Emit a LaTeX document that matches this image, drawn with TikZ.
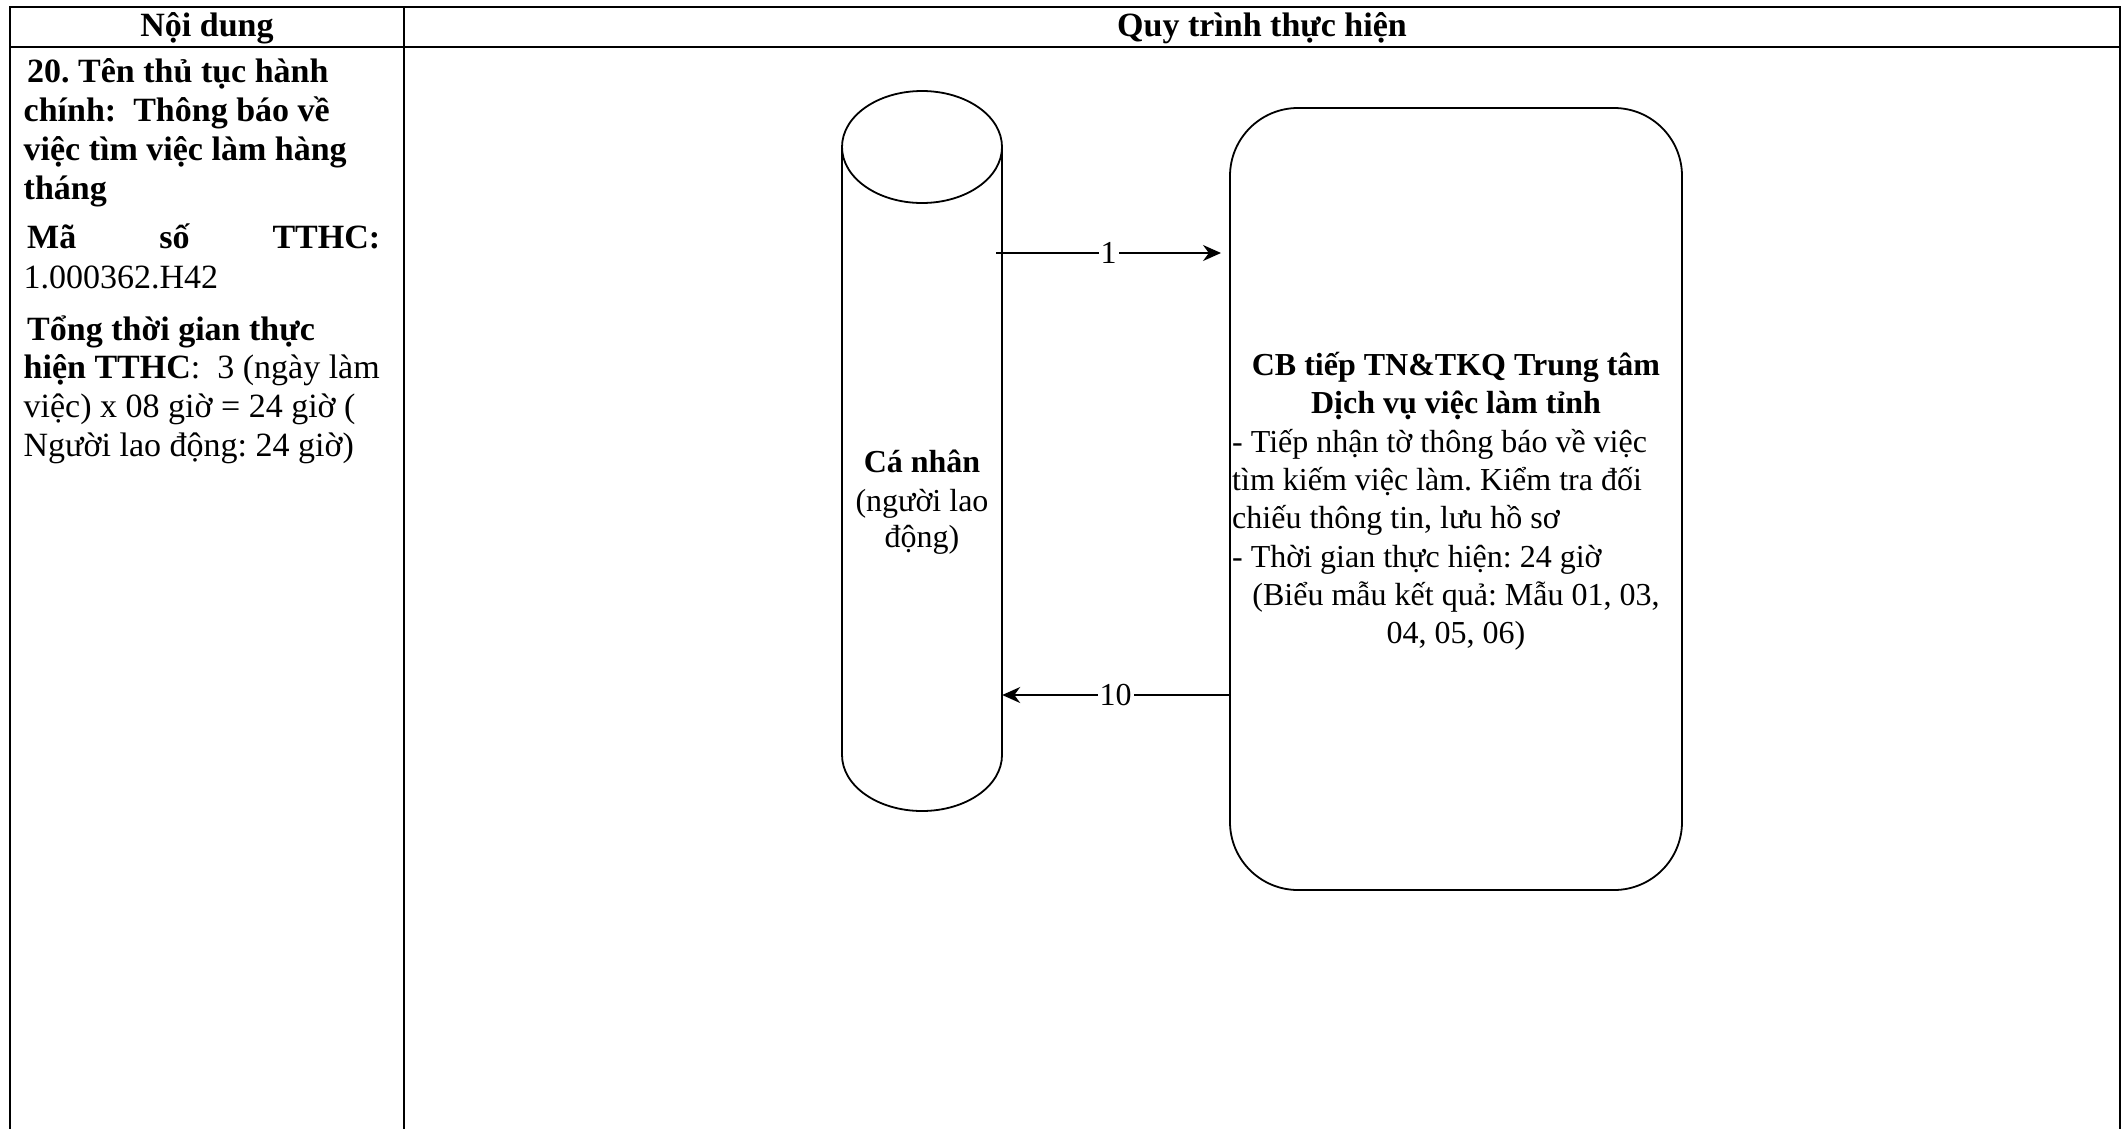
\documentclass[tikz,border=0pt]{standalone}
\usepackage{fontspec}
\setmainfont{Liberation Serif}
\usetikzlibrary{arrows.meta,calc}
\frenchspacing
\begin{document}
\begin{tikzpicture}[x=1pt,y=1pt,
  frame/.style={line width=1.8pt, line cap=rect},
  shapeline/.style={line width=1.8pt},
  big/.style={font=\fontsize{34}{40}\selectfont},
  dia/.style={font=\fontsize{32}{38}\selectfont},
  tl/.style={inner sep=0pt, anchor=base west},
  tc/.style={inner sep=0pt, anchor=base},
  arr/.style={line width=1.8pt, -{Stealth[length=18pt,width=16pt]}},
  lbl/.style={fill=white, inner sep=2pt, dia},
]
\useasboundingbox[fill=white] (0,0) rectangle (2123,-1128);

% table frame
\draw[frame] (10,-1130) -- (10,-7) -- (2120,-7) -- (2120,-1130);
\draw[frame] (10,-47) -- (2120,-47);
\draw[frame] (404,-7) -- (404,-1130);

% headers
\node[tc, big] (h1) at (207,-36) {\textbf{Nội dung}};
\node[tc, big] (h2) at (1262,-36) {\textbf{Quy trình thực hiện}};

% left column
\node[tl, big] (l1) at (27,-82) {\textbf{20. Tên thủ tục hành}};
\node[tl, big] (l2) at (23.5,-121) {\textbf{chính:~ Thông báo về}};
\node[tl, big] (l3) at (23.5,-160) {\textbf{việc tìm việc làm hàng}};
\node[tl, big] (l4) at (23.5,-199) {\textbf{tháng}};
\node[tl, big, text width=353pt] (l5) at (27,-248) {\textbf{Mã\hfill số\hfill TTHC:}};
\node[tl, big] (l6) at (23.5,-288) {1.000362.H42};
\node[tl, big] (l7) at (27,-340) {\textbf{Tổng thời gian thực}};
\node[tl, big] (l8) at (23.5,-378) {\textbf{hiện TTHC}:~ 3 (ngày làm};
\node[tl, big] (l9) at (23.5,-417) {việc) x 08 giờ = 24 giờ (};
\node[tl, big] (l10) at (23.5,-456) {Người lao động: 24 giờ)};

% cylinder
\node[inner sep=0pt, minimum width=160pt, minimum height=720pt] (cyl) at (922,-451) {};
\draw[shapeline] (842,-147) -- (842,-755)
  arc[start angle=180, end angle=360, x radius=80, y radius=56] -- (1002,-147);
\draw[shapeline] (922,-147) ellipse[x radius=80, y radius=56];
\node[tc, dia] (c1) at (922,-472) {\textbf{Cá nhân}};
\node[tc, dia] (c2) at (922,-511) {(người lao};
\node[tc, dia] (c3) at (922,-547) {động)};

% rounded box
\node[draw, shapeline, rounded corners=68pt, minimum width=452pt, minimum height=782pt, inner sep=0pt] (box) at (1456,-499) {};
\node[tc, dia] (b1) at (1456,-375) {\textbf{CB tiếp TN\&TKQ Trung tâm}};
\node[tc, dia] (b2) at (1456,-413) {\textbf{Dịch vụ việc làm tỉnh}};
\node[tl, dia] (b3) at (1232,-452) {- Tiếp nhận tờ thông báo về việc};
\node[tl, dia] (b4) at (1232,-490) {tìm kiếm việc làm. Kiểm tra đối};
\node[tl, dia] (b5) at (1232,-528) {chiếu thông tin, lưu hồ sơ};
\node[tl, dia] (b6) at (1232,-567) {- Thời gian thực hiện: 24 giờ};
\node[tc, dia] (b7) at (1456,-605) {(Biểu mẫu kết quả: Mẫu 01, 03,};
\node[tc, dia] (b8) at (1456,-643) {04, 05, 06)};

% connectors
\coordinate (a1s) at (996,-253);
\coordinate (a1e) at (1221,-253);
\coordinate (y10) at (0,-695);
\draw[arr] (a1s) -- node[lbl] {1} (a1e);
\draw[arr] (box.west |- y10) -- node[lbl] {10} (cyl.east |- y10);
\end{tikzpicture}
\end{document}
